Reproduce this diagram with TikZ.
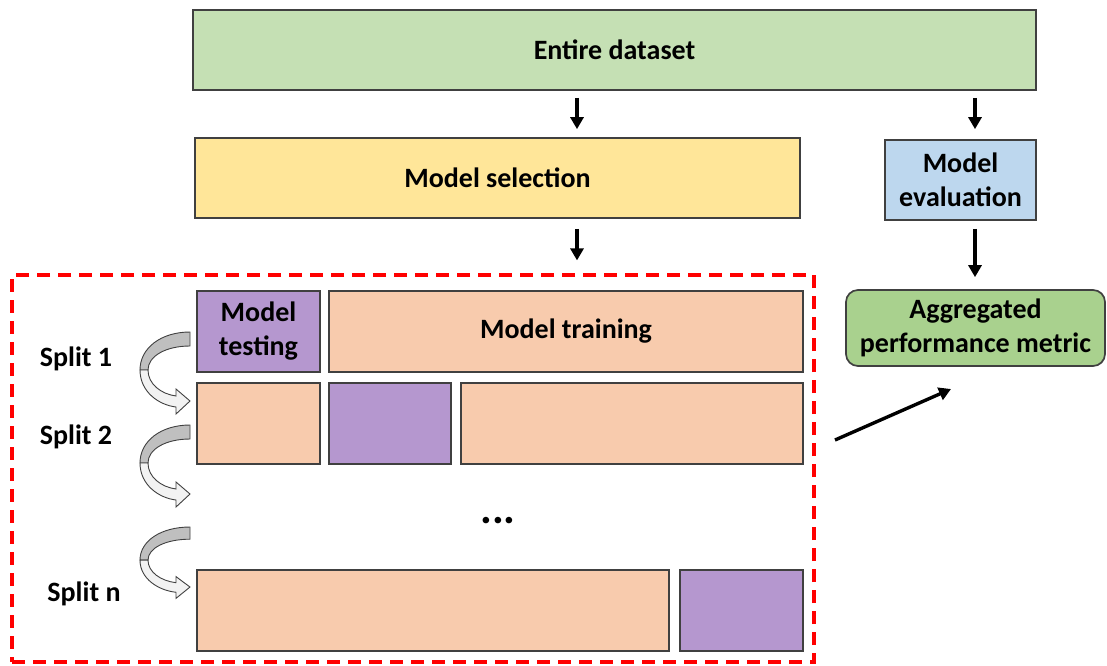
\documentclass[tikz,border=0pt]{standalone}
\usepackage{fontspec}
\setmainfont{Carlito}
\usetikzlibrary{arrows.meta}
\definecolor{dsgreen}{HTML}{C5E0B4}
\definecolor{selyellow}{HTML}{FFE699}
\definecolor{evblue}{HTML}{BDD7EE}
\definecolor{agggreen}{HTML}{A9D18E}
\definecolor{trpeach}{HTML}{F8CBAD}
\definecolor{tspurple}{HTML}{B597CF}
\definecolor{edge}{HTML}{404040}
\definecolor{curvtop}{HTML}{BFBFBF}
\definecolor{curvbot}{HTML}{F2F2F2}
\tikzset{
  box/.style={draw=edge, line width=1.7pt, inner sep=0pt, anchor=center,
    font=\bfseries\fontsize{28}{34}\selectfont, align=center},
  trainbox/.style={box, fill=trpeach},
  testbox/.style={box, fill=tspurple},
  flow/.style={line width=3.4pt, -{Triangle[length=12pt,width=13pt]}},
  lbl/.style={font=\bfseries\fontsize{28}{30}\selectfont, inner sep=0pt},
  curvpart/.style={draw=edge, line width=0.9pt},
}
% curved hand-over arrow between two splits, drawn from its top-right corner
\newcommand{\splitcurve}[3]{%
  \begin{scope}[shift={(#1,#2)}, yscale=#3]
    \path[curvpart, fill=curvtop]
      (0,0) .. controls (-29,0) and (-50,16) .. (-50,38) -- (-42,38)
      .. controls (-42,24) and (-24,14) .. (0,14) -- cycle;
    \path[curvpart, fill=curvbot]
      (-50,38) .. controls (-50,60) and (-31,73) .. (-14,75) -- (-14,82)
      -- (0,69) -- (-14,57) -- (-14,64)
      .. controls (-29,62) and (-42,52) .. (-42,38) -- cycle;
  \end{scope}}
\begin{document}
\begin{tikzpicture}[x=1pt, y=-1pt]
  \useasboundingbox (0,0) rectangle (1107,665);

  % top row
  \node[box, fill=dsgreen, minimum width=843pt, minimum height=80pt] (data) at (614.5,50) {Entire dataset};
  \node[box, fill=selyellow, minimum width=605pt, minimum height=80pt] (sel) at (497.5,178) {Model selection};
  \node[box, fill=evblue, minimum width=151pt, minimum height=80pt] (eval) at (960.5,180) {Model\\evaluation};
  \node[box, fill=agggreen, rounded corners=12pt, minimum width=259pt, minimum height=76pt] (agg) at (975.5,328) {Aggregated\\performance metric};

  % cross-validation frame
  \node[draw=red, line width=3.2pt, dash pattern=on 13pt off 8pt, inner sep=0pt,
        minimum width=802pt, minimum height=387pt] (cv) at (413,468.5) {};

  % split 1
  \node[testbox, minimum width=123pt, minimum height=81pt] (t1) at (258.5,331.5) {Model\\testing};
  \node[trainbox, minimum width=474pt, minimum height=81pt] (r1) at (566,331.5) {Model training};
  % split 2
  \node[trainbox, minimum width=123pt, minimum height=81pt] (r2a) at (258.5,423.5) {};
  \node[testbox, minimum width=122pt, minimum height=81pt] (t2) at (390,423.5) {};
  \node[trainbox, minimum width=342pt, minimum height=81pt] (r2b) at (632,423.5) {};
  % split n
  \node[trainbox, minimum width=472pt, minimum height=81pt] (rn) at (433,610.5) {};
  \node[testbox, minimum width=123pt, minimum height=81pt] (tn) at (741.5,610.5) {};

  \node[font=\bfseries\fontsize{44}{44}\selectfont, inner sep=0pt, anchor=base] (dots) at (498,523) {...};

  \node[lbl] (s1) at (76,359) {Split 1};
  \node[lbl] (s2) at (76,437) {Split 2};
  \node[lbl] (sn) at (84,594) {Split n};

  \splitcurve{190}{332}{1}
  \splitcurve{190}{425}{1}
  \splitcurve{190}{527}{0.87}

  % connectors
  \coordinate (c1) at (577,0);
  \coordinate (c2) at (975,0);
  \draw[flow, shorten <=7pt, shorten >=8pt] (data.south -| c1) -- (sel.north -| c1);
  \draw[flow, shorten <=7pt, shorten >=10pt] (data.south -| c2) -- (eval.north -| c2);
  \draw[flow, shorten <=10pt, shorten >=13pt] (sel.south -| c1) -- (cv.north -| c1);
  \draw[flow, shorten <=8pt, shorten >=12pt] (eval.south -| c2) -- (agg.north -| c2);
  \coordinate (d1) at (835,440);
  \coordinate (d2) at (951,389);
  \draw[flow] (d1) -- (d2);
\end{tikzpicture}
\end{document}
